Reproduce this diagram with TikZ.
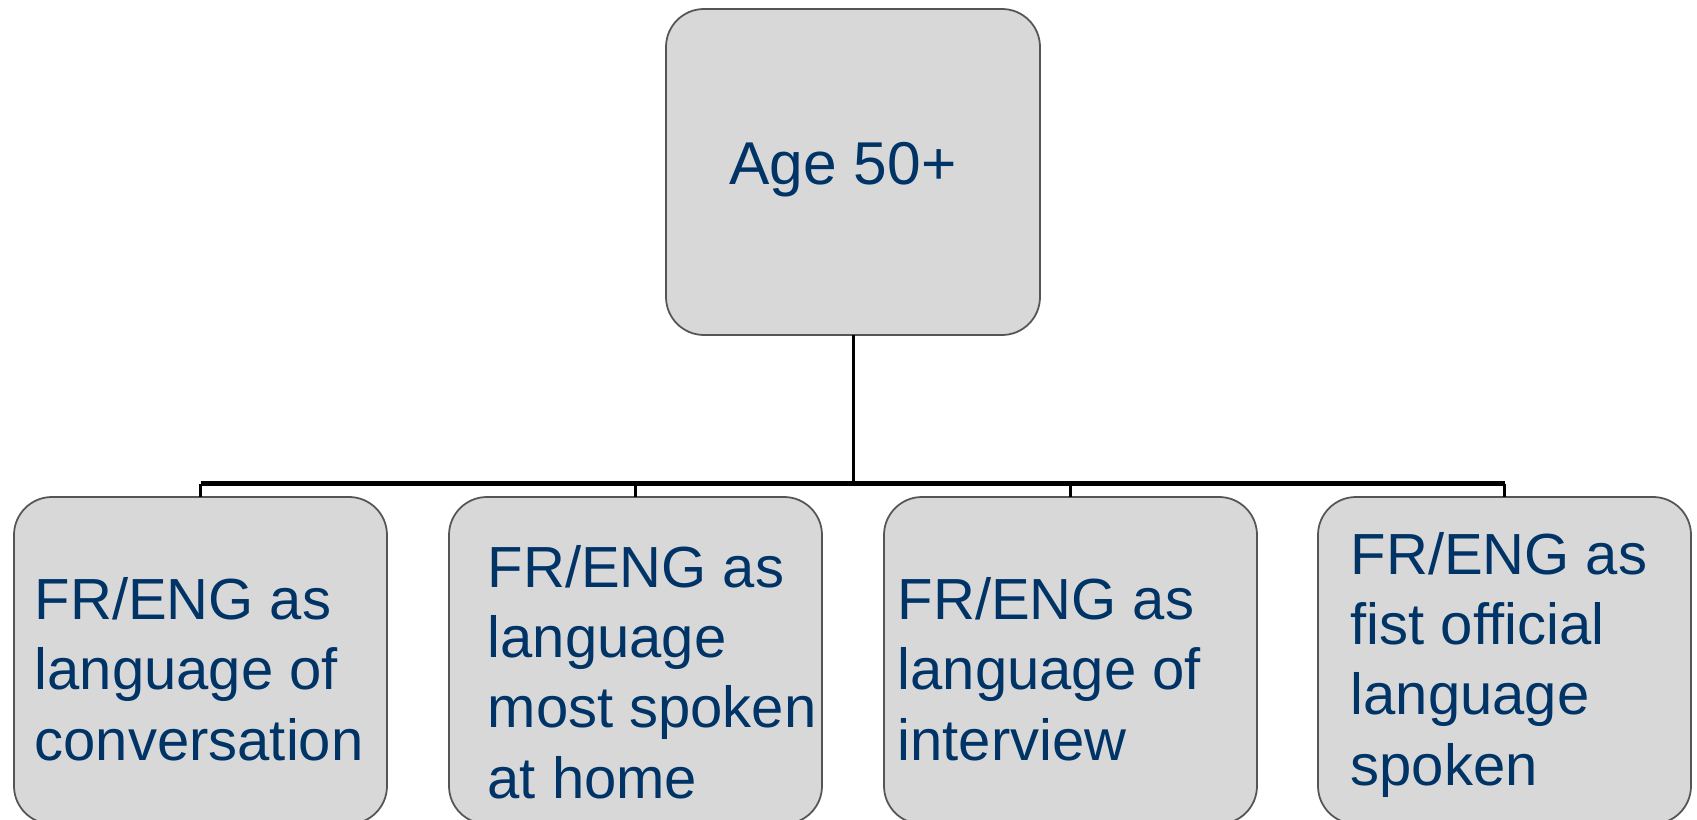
\documentclass[tikz,border=0pt]{standalone}
\usepackage{fontspec}
\setmainfont{Liberation Sans}
\definecolor{boxgray}{HTML}{D8D8D8}
\definecolor{boxline}{HTML}{555555}
\definecolor{textblue}{HTML}{003366}

\begin{document}
\begin{tikzpicture}[
	box/.style={draw=boxline, line width=0.5pt, fill=boxgray, rounded corners=0.38cm,
		outer sep=0pt, inner sep=0pt, minimum width=3.73cm, minimum height=3.27cm},
	lbl/.style={text=textblue, font=\fontsize{16.5}{19.92}\selectfont, align=left,
		inner sep=0pt, anchor=base west},
	trunk/.style={line width=0.85pt},
	bar/.style={line width=1.7pt}]
	\useasboundingbox (0,0) rectangle (16.97,8.19);
	\clip (0,0) rectangle (16.97,8.19);

	% top box
	\node [box, minimum width=3.74cm, minimum height=3.26cm] (age) at (8.53,6.47) {};
	\node [lbl, anchor=base, font=\fontsize{17.2}{20}\selectfont] (tage) at ([shift={(-0.10,-0.12)}]age.center) {Age 50+};

	% the four boxes below, bottoms run off the page
	\node [box] (conv) at (2.005,1.585) {};
	\node [box] (home) at (6.355,1.585) {};
	\node [box] (intv) at (10.705,1.585) {};
	\node [box] (first) at (15.045,1.585) {};

	% labels sit on the baseline of their last line
	\node [lbl] (tconv) at ([shift={(0.20,-2.63)}]conv.north west) {FR/ENG as\\language of\\conversation};
	\node [lbl] (thome) at ([shift={(0.38,-3.01)}]home.north west) {FR/ENG as\\language\\most spoken\\at home};
	\node [lbl] (tintv) at ([shift={(0.13,-2.63)}]intv.north west) {FR/ENG as\\language of\\interview};
	\node [lbl] (tfirst) at ([shift={(0.32,-2.88)}]first.north west) {FR/ENG as\\fist official\\language\\spoken};

	% connectors
	\coordinate (split) at (8.53,3.355);
	\draw [trunk] (age.south) -- (split);
	\draw [bar] (conv.north |- split) -- (first.north |- split);
	\foreach \b in {conv,home,intv,first}
		\draw [trunk] (\b.north |- split) -- (\b.north);
\end{tikzpicture}
\end{document}
